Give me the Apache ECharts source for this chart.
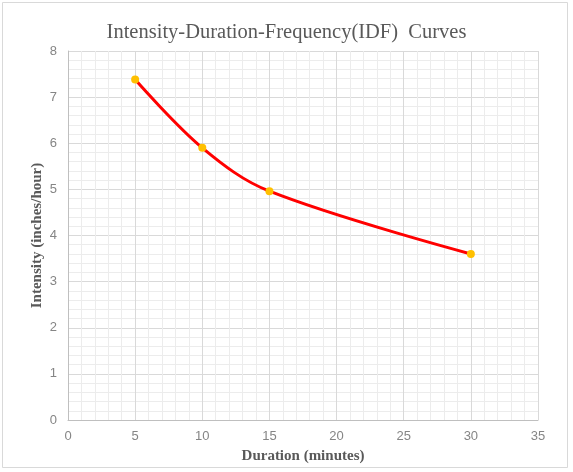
<!DOCTYPE html>
<html><head><meta charset="utf-8">
<script src="https://cdn.jsdelivr.net/npm/echarts@6/dist/echarts.min.js"></script>
<style>html,body{margin:0;padding:0;background:#fff}#c{width:573px;height:472px}</style>
</head><body><div id="c"></div>
<script>
const durations = [5, 10, 15, 30];
const intensities = [7.38, 5.90, 4.96, 3.60];
const titleText = 'Intensity-Duration-Frequency(IDF)  Curves';
const xName = 'Duration (minutes)';
const yName = 'Intensity (inches/hour)';

const chart = echarts.init(document.getElementById('c'));
chart.setOption({
  animation: false,
  backgroundColor: '#fff',
  graphic: [{type:'rect', shape:{x:2.5,y:2.5,width:565,height:465}, style:{fill:'none', stroke:'#d9d9d9', lineWidth:1}}],
  title: {text: titleText, left: 'center', top: 17,
    textStyle: {fontFamily: 'Liberation Serif', fontWeight: 'normal', fontSize: 20.5, color: '#595959'}},
  grid: {left: 68, right: 35, top: 51, bottom: 52},
  xAxis: {type: 'value', min: 0, max: 35, interval: 5,
    name: xName, nameLocation: 'middle', nameGap: 29,
    nameTextStyle: {fontFamily: 'Liberation Serif', fontWeight: 'bold', fontSize: 15, color: '#595959'},
    axisLine: {lineStyle: {color: '#bfbfbf'}}, axisTick: {show: false},
    axisLabel: {color: '#858585', fontSize: 13, fontFamily: 'Liberation Sans', margin: 10},
    splitLine: {lineStyle: {color: '#d9d9d9'}},
    minorTick: {show: false, splitNumber: 5},
    minorSplitLine: {show: true, lineStyle: {color: '#ececec'}}},
  yAxis: {type: 'value', min: 0, max: 8, interval: 1,
    name: yName, nameLocation: 'middle', nameGap: 23, nameMoveOverlap: false,
    nameTextStyle: {fontFamily: 'Liberation Serif', fontWeight: 'bold', fontSize: 15, color: '#595959'},
    axisLine: {show: true, lineStyle: {color: '#bfbfbf'}}, axisTick: {show: false},
    axisLabel: {color: '#858585', fontSize: 13, fontFamily: 'Liberation Sans', margin: 11},
    splitLine: {lineStyle: {color: '#d9d9d9'}},
    minorTick: {show: false, splitNumber: 5},
    minorSplitLine: {show: true, lineStyle: {color: '#ececec'}}},
  series: [{type: 'line', data: durations.map((d,i)=>[d, intensities[i]]),
    smooth: 0.35, symbol: 'circle', symbolSize: 8,
    lineStyle: {color: '#ff0000', width: 3},
    itemStyle: {color: '#ffc000'}, z: 3}]
});
</script></body></html>
